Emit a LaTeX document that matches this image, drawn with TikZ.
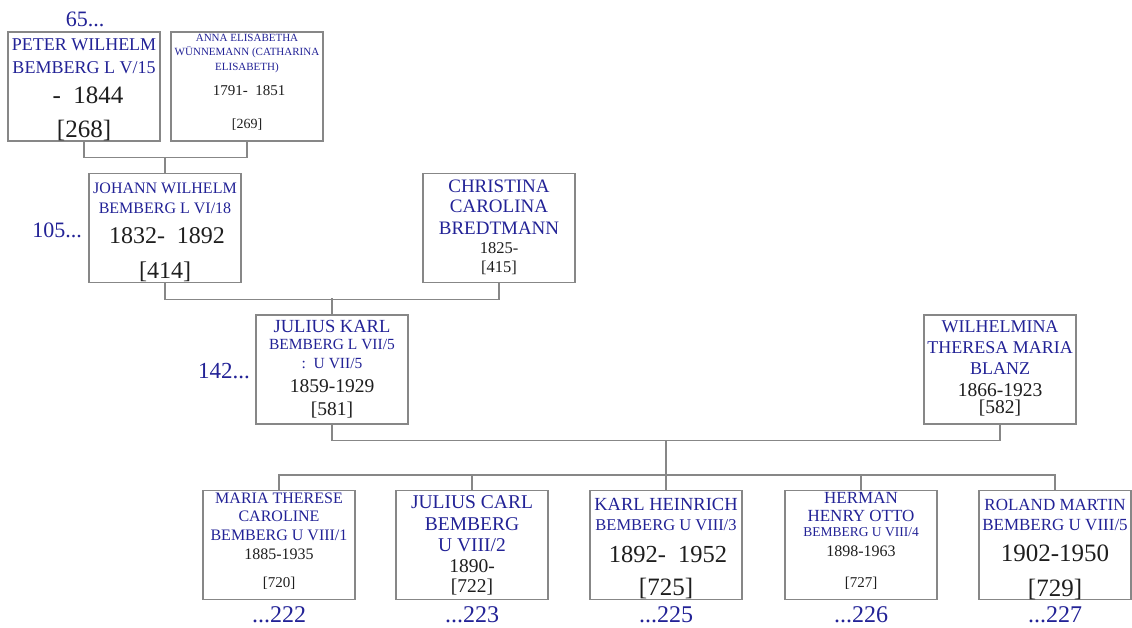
\documentclass[tikz,border=0pt]{standalone}
\usepackage{fontspec}
\setmainfont{Liberation Serif}
\newfontfamily\namefont{Liberation Serif}
\definecolor{nameblue}{RGB}{34,34,150}
\definecolor{boxgray}{RGB}{135,135,135}
\definecolor{datecol}{RGB}{30,30,30}
\tikzset{
  person/.style={draw=boxgray, line width=1.2pt, minimum width=152pt, minimum height=109pt, inner sep=0pt},
  nm/.style={text=nameblue, anchor=base, inner sep=0pt},
  dt/.style={text=datecol, anchor=base, inner sep=0pt},
  num/.style={text=nameblue, anchor=base, inner sep=0pt},
  link/.style={draw=boxgray, line width=1.2pt},
}
\newcommand\fsz[1]{\fontsize{#1}{#1}\selectfont}
\begin{document}
\begin{tikzpicture}[x=1pt,y=-1pt]
\useasboundingbox (0,0) rectangle (1132,627);
% boxes
\node[person] (peter) at (84,86.5) {};
\node[person] (anna) at (247,86.5) {};
\node[person] (johann) at (165,228) {};
\node[person] (christina) at (499,228) {};
\node[person] (julius) at (332,369.5) {};
\node[person] (wilhelmina) at (1000,369.5) {};
\node[person] (c1) at (279,545) {};
\node[person] (c2) at (472,545) {};
\node[person] (c3) at (666,545) {};
\node[person] (c4) at (861,545) {};
\node[person] (c5) at (1055,545) {};
% connectors
\draw[link] (peter.south) -- ([yshift=-16pt]peter.south) -| (anna.south);
\draw[link] (johann.north) -- ([yshift=16pt]johann.north);
\draw[link] (johann.south) -- ([yshift=-16pt]johann.south) -| (christina.south);
\draw[link] (julius.north) -- ([yshift=16pt]julius.north);
\draw[link] (julius.south) -- ([yshift=-16pt]julius.south) -| (wilhelmina.south);
\coordinate (fam) at (666,440.5);
\coordinate (kids) at (666,475);
\draw[link] (fam) -- (kids);
\draw[link] (c1.north) -- ([yshift=15pt]c1.north) -| (c5.north);
\draw[link] (c2.north) -- ([yshift=15pt]c2.north);
\draw[link] (c3.north) -- ([yshift=15pt]c3.north);
\draw[link] (c4.north) -- ([yshift=15pt]c4.north);
% Peter
\node[num] (n65) at (85,26) {\fsz{22}65...};
\node[nm] (p1) at (84,50) {\fsz{18}PETER WILHELM};
\node[nm] (p2) at (84,73) {\fsz{18}BEMBERG L V/15};
\node[dt] (p3) at (88,103) {\fsz{25}-\ \ 1844};
\node[dt] (p4) at (84,137) {\fsz{25}[268]};
% Anna
\node[nm] (a1) at (247,41) {\fsz{11}ANNA ELISABETHA};
\node[nm] (a2) at (247,55.5) {\fsz{11}WÜNNEMANN (CATHARINA};
\node[nm] (a3) at (247,70) {\fsz{11}ELISABETH)};
\node[dt] (a4) at (249,95) {\fsz{15}1791-\ \ 1851};
\node[dt] (a5) at (247,128) {\fsz{14}[269]};
% Johann
\node[num, anchor=base east] (n105) at (82,237) {\fsz{22}105...};
\node[nm] (j1) at (165,193) {\fsz{16}JOHANN WILHELM};
\node[nm] (j2) at (165,213) {\fsz{16}BEMBERG L VI/18};
\node[dt] (j3) at (167,243) {\fsz{24}1832-\ \ 1892};
\node[dt] (j4) at (165,278) {\fsz{24}[414]};
% Christina
\node[nm] (k1) at (499,192) {\fsz{19}CHRISTINA};
\node[nm] (k2) at (499,212.5) {\fsz{19}CAROLINA};
\node[nm] (k3) at (499,234) {\fsz{19}BREDTMANN};
\node[dt] (k4) at (499,253) {\fsz{16.5}1825-};
\node[dt] (k5) at (499,272) {\fsz{16.5}[415]};
% Julius Karl
\node[num, anchor=base east] (n142) at (250,378) {\fsz{23}142...};
\node[nm] (u1) at (332,332) {\fsz{18.5}JULIUS KARL};
\node[nm] (u2) at (332,349.5) {\fsz{15.5}BEMBERG L VII/5};
\node[nm] (u3) at (332,368) {\fsz{15.5}:\ \ U VII/5};
\node[dt] (u4) at (332,392) {\fsz{19.5}1859-1929};
\node[dt] (u5) at (332,415) {\fsz{19.5}[581]};
% Wilhelmina
\node[nm] (w1) at (1000,332) {\fsz{18}WILHELMINA};
\node[nm] (w2) at (1000,353) {\fsz{18}THERESA MARIA};
\node[nm] (w3) at (1000,374) {\fsz{18}BLANZ};
\node[dt] (w4) at (1000,396) {\fsz{19.5}1866-1923};
\node[dt] (w5) at (1000,413.5) {\fsz{19.5}[582]};
% child 1
\node[nm] (m1) at (279,503) {\fsz{16}MARIA THERESE};
\node[nm] (m2) at (279,521) {\fsz{16}CAROLINE};
\node[nm] (m3) at (279,540) {\fsz{16}BEMBERG U VIII/1};
\node[dt] (m4) at (279,559) {\fsz{16}1885-1935};
\node[dt] (m5) at (279,587) {\fsz{15}[720]};
\node[num] (l1) at (279,622) {\fsz{24}...222};
% child 2
\node[nm] (r1) at (472,508) {\fsz{19.5}JULIUS CARL};
\node[nm] (r2) at (472,530) {\fsz{19.5}BEMBERG};
\node[nm] (r3) at (472,551) {\fsz{19.5}U VIII/2};
\node[dt] (r4) at (472,572) {\fsz{19.5}1890-};
\node[dt] (r5) at (472,592) {\fsz{19.5}[722]};
\node[num] (l2) at (472,622) {\fsz{24}...223};
% child 3
\node[nm] (h1) at (666,510) {\fsz{18.5}KARL HEINRICH};
\node[nm] (h2) at (666,530) {\fsz{16.5}BEMBERG U VIII/3};
\node[dt] (h3) at (668,562) {\fsz{24.5}1892-\ \ 1952};
\node[dt] (h4) at (666,595) {\fsz{25}[725]};
\node[num] (l3) at (666,622) {\fsz{24}...225};
% child 4
\node[nm] (e1) at (861,503) {\fsz{17}HERMAN};
\node[nm] (e2) at (861,521) {\fsz{17}HENRY OTTO};
\node[nm] (e3) at (861,536) {\fsz{13.5}BEMBERG U VIII/4};
\node[dt] (e4) at (861,556) {\fsz{16}1898-1963};
\node[dt] (e5) at (861,587) {\fsz{15}[727]};
\node[num] (l4) at (861,622) {\fsz{24}...226};
% child 5
\node[nm] (o1) at (1055,510) {\fsz{17}ROLAND MARTIN};
\node[nm] (o2) at (1055,530) {\fsz{17}BEMBERG U VIII/5};
\node[dt] (o3) at (1055,561) {\fsz{25}1902-1950};
\node[dt] (o4) at (1055,596) {\fsz{25}[729]};
\node[num] (l5) at (1055,622) {\fsz{24}...227};
\end{tikzpicture}
\end{document}
